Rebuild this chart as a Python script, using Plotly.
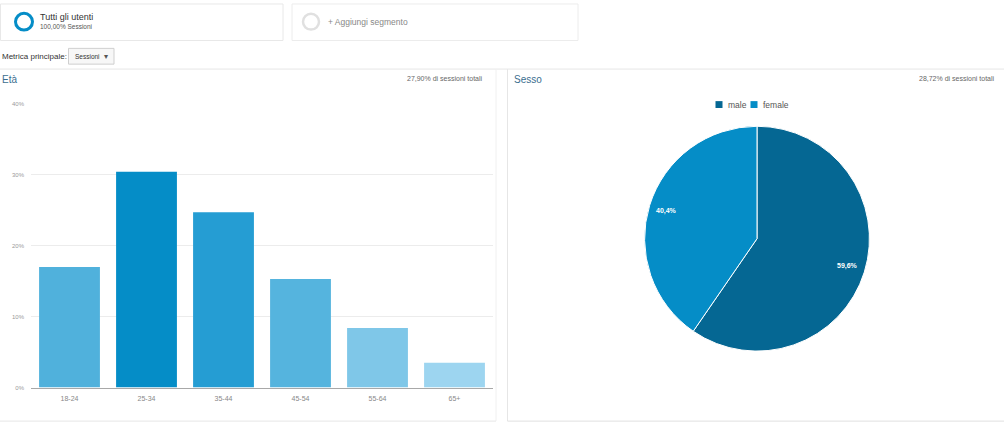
import math
import plotly.graph_objects as go

W, H = 1004, 432

# ---- data ----
age_groups = ["18-24", "25-34", "35-44", "45-54", "55-64", "65+"]
age_share = [17.0, 30.4, 24.7, 15.3, 8.4, 3.5]
age_colors = ["#50b1dc", "#058dc7", "#259dd3", "#55b4de", "#7fc7e8", "#9dd5f0"]
y_ticks = [0, 10, 20, 30, 40]
y_tick_text = ["0%", "10%", "20%", "30%", "40%"]

gender_labels = ["male", "female"]
gender_share = [59.6, 40.4]
gender_colors = ["#056793", "#058dc7"]

age_total_text = "27,90% di sessioni totali"
gender_total_text = "28,72% di sessioni totali"

FONT = "Arial, Liberation Sans, sans-serif"


def px(x):
    return x / W


def py(y):
    return 1 - y / H


fig = go.Figure()

fig.add_trace(go.Bar(
    x=age_groups, y=age_share, marker=dict(color=age_colors, line=dict(width=0)),
    showlegend=False, hoverinfo="x+y", xaxis="x", yaxis="y",
))

fig.add_trace(go.Pie(
    labels=gender_labels, values=gender_share, sort=False, direction="clockwise",
    rotation=0, marker=dict(colors=gender_colors, line=dict(color="white", width=1)),
    textinfo="none", hoverinfo="label+percent", showlegend=False,
    domain=dict(x=[px(643), px(871)], y=[py(353), py(125)]),
))

shapes = []
annotations = []

# header segment boxes
shapes.append(dict(type="rect", xref="paper", yref="paper", x0=px(0.5), x1=px(283), y0=py(1), y1=py(38),
                   line=dict(color="#e8e8e8", width=1), fillcolor="white", layer="below"))
shapes.append(dict(type="rect", xref="paper", yref="paper", x0=px(292), x1=px(578), y0=py(1), y1=py(38),
                   line=dict(color="#ececec", width=1), fillcolor="white", layer="below"))
shapes.append(dict(type="circle", xref="paper", yref="paper", x0=px(15.5), x1=px(32.5), y0=py(27.5), y1=py(10.5),
                   line=dict(color="#058dc7", width=3)))
shapes.append(dict(type="circle", xref="paper", yref="paper", x0=px(303), x1=px(319), y0=py(27), y1=py(11),
                   line=dict(color="#e0e0e0", width=2.5)))
annotations += [
    dict(text="Tutti gli utenti", x=px(38), y=py(14), xanchor="left", yanchor="middle",
         font=dict(size=9, color="#333")),
    dict(text="100,00% Sessioni", x=px(38), y=py(24), xanchor="left", yanchor="middle",
         font=dict(size=6.5, color="#555")),
    dict(text="+ Aggiungi segmento", x=px(326), y=py(19), xanchor="left", yanchor="middle",
         font=dict(size=8.5, color="#888")),
    dict(text="Metrica principale:", x=px(0), y=py(54), xanchor="left", yanchor="middle",
         font=dict(size=8, color="#333")),
    dict(text="Sessioni", x=px(73), y=py(54), xanchor="left", yanchor="middle",
         font=dict(size=6.5, color="#333")),
    dict(text="▾", x=px(106), y=py(54), xanchor="center", yanchor="middle",
         font=dict(size=8, color="#555")),
]
shapes.append(dict(type="rect", xref="paper", yref="paper", x0=px(68.5), x1=px(114), y0=py(62), y1=py(46),
                   line=dict(color="#cfcfcf", width=1), fillcolor="#f7f7f7", layer="below"))

# separator line
shapes.append(dict(type="line", xref="paper", yref="paper", x0=0, x1=1, y0=py(67), y1=py(67),
                   line=dict(color="#e6e6e6", width=1)))

# panel borders
shapes.append(dict(type="line", xref="paper", yref="paper", x0=px(496), x1=px(496), y0=py(67), y1=py(424),
                   line=dict(color="#f0f0f0", width=1)))
shapes.append(dict(type="line", xref="paper", yref="paper", x0=0, x1=px(496), y0=py(424), y1=py(424),
                   line=dict(color="#e6e6e6", width=1)))
shapes.append(dict(type="line", xref="paper", yref="paper", x0=px(507.5), x1=px(507.5), y0=py(67), y1=py(424),
                   line=dict(color="#e6e6e6", width=1)))
shapes.append(dict(type="line", xref="paper", yref="paper", x0=px(507.5), x1=1, y0=py(424), y1=py(424),
                   line=dict(color="#e0e0e0", width=1)))

# panel titles
annotations += [
    dict(text="Età", x=px(0), y=py(78), xanchor="left", yanchor="middle",
         font=dict(size=10, color="#3b6e8f")),
    dict(text=age_total_text, x=px(485), y=py(77), xanchor="right", yanchor="middle",
         font=dict(size=7, color="#666")),
    dict(text="Sesso", x=px(512), y=py(78), xanchor="left", yanchor="middle",
         font=dict(size=10, color="#3b6e8f")),
    dict(text=gender_total_text, x=px(997), y=py(77), xanchor="right", yanchor="middle",
         font=dict(size=7, color="#666")),
]

# compact legend for the pie: colored squares + labels
legend_sq_x = [719, 754]
for lab, c, sx in zip(gender_labels, gender_colors, legend_sq_x):
    shapes.append(dict(type="rect", xref="paper", yref="paper", x0=px(sx - 3.5), x1=px(sx + 3.5),
                       y0=py(106.5), y1=py(99.5), line=dict(width=0), fillcolor=c))
    annotations.append(dict(text=lab, x=px(sx + 7), y=py(103), xanchor="left", yanchor="middle",
                            font=dict(size=8.5, color="#555")))

# pie percentage labels placed along each slice's mid-angle
cx, cy, R = 757, 239, 114
total = sum(gender_share)
start = 0.0
for val in gender_share:
    mid = (start + val / 2) / total * 2 * math.pi
    start += val
    lx = cx + 0.83 * R * math.sin(mid)
    ly = cy - 0.83 * R * math.cos(mid)
    annotations.append(dict(text="<b>" + f"{val:.1f}".replace(".", ",") + "%</b>",
                            x=px(lx), y=py(ly), xanchor="center", yanchor="middle",
                            font=dict(size=7, color="white")))

for a in annotations:
    a.update(xref="paper", yref="paper", showarrow=False)

fig.update_layout(
    width=W, height=H, margin=dict(l=0, r=0, t=0, b=0),
    paper_bgcolor="white", plot_bgcolor="white",
    font=dict(family=FONT, color="#444"),
    bargap=0.21, showlegend=False,
    xaxis=dict(domain=[px(31), px(493)], showgrid=False, showline=True, linecolor="#a8a8a8",
               linewidth=1, ticks="", ticklabelstandoff=4,
               tickfont=dict(size=7, color="#888"), fixedrange=True),
    yaxis=dict(domain=[py(390), py(102)], range=[0, 40], tickvals=y_ticks, ticktext=y_tick_text,
               showgrid=True, gridcolor="#ececec", zeroline=False, ticks="", ticklabelstandoff=6,
               tickfont=dict(size=6, color="#999"), fixedrange=True),
    shapes=shapes, annotations=annotations,
)

fig.write_html("out.html")
